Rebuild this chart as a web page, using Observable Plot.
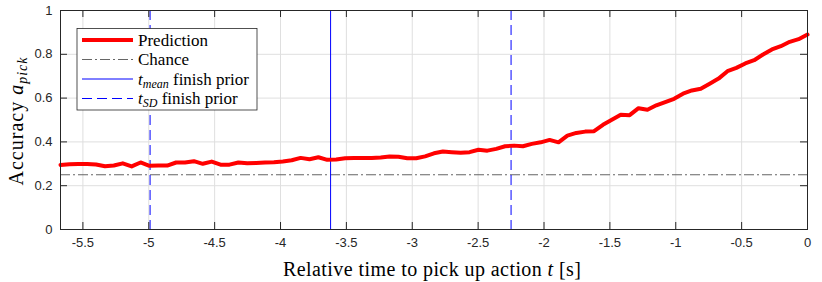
<!DOCTYPE html>
<html><head><meta charset="utf-8">
<script src="https://cdn.jsdelivr.net/npm/d3@7"></script>
<script src="https://cdn.jsdelivr.net/npm/@observablehq/plot@0.6"></script>
<style>body{margin:0;background:#fff}</style>
</head><body><div id="chart"></div>
<script>
// ---- data ----
const times = [-5.67,-5.6025,-5.535,-5.4675,-5.4,-5.3325,-5.265,-5.1975,-5.13,-5.0625,
  -4.995,-4.9275,-4.86,-4.7925,-4.725,-4.6575,-4.59,-4.5225,-4.455,-4.3875,
  -4.32,-4.2525,-4.185,-4.1175,-4.05,-3.9825,-3.915,-3.8475,-3.78,-3.7125,
  -3.645,-3.5775,-3.51,-3.4425,-3.375,-3.3075,-3.24,-3.1725,-3.105,-3.0375,
  -2.97,-2.9025,-2.835,-2.7675,-2.7,-2.6325,-2.565,-2.4975,-2.43,-2.3625,
  -2.295,-2.2275,-2.16,-2.0925,-2.025,-1.9575,-1.89,-1.8225,-1.755,-1.6875,
  -1.62,-1.5525,-1.485,-1.4175,-1.35,-1.2825,-1.215,-1.1475,-1.08,-1.0125,
  -0.945,-0.8775,-0.81,-0.7425,-0.675,-0.6075,-0.54,-0.4725,-0.405,-0.3375,
  -0.27,-0.2025,-0.135,-0.0675,0];
const accuracy = [0.295,0.298,0.299,0.299,0.297,0.289,0.292,0.302,0.288,0.306,
  0.291,0.292,0.292,0.306,0.306,0.312,0.300,0.310,0.296,0.296,
  0.306,0.302,0.304,0.306,0.307,0.311,0.316,0.327,0.321,0.330,
  0.318,0.320,0.325,0.327,0.327,0.327,0.329,0.333,0.332,0.325,
  0.325,0.334,0.348,0.356,0.353,0.350,0.353,0.364,0.360,0.368,
  0.380,0.383,0.380,0.391,0.398,0.409,0.398,0.429,0.441,0.447,
  0.449,0.478,0.501,0.524,0.522,0.554,0.547,0.567,0.582,0.597,
  0.620,0.635,0.643,0.666,0.689,0.723,0.738,0.758,0.773,0.799,
  0.822,0.837,0.857,0.869,0.890];
const chance = [0.25];
const tMean = [-3.62];
const tSD = [-4.99, -2.25];
const xDomain = [-5.67, 0];
const xTicks = [-5.5,-5,-4.5,-4,-3.5,-3,-2.5,-2,-1.5,-1,-0.5,0];
const xTickLabels = ["-5.5","-5","-4.5","-4","-3.5","-3","-2.5","-2","-1.5","-1","-0.5","0"];
const yTicks = [0,0.2,0.4,0.6,0.8,1];
const yTickLabels = ["0","0.2","0.4","0.6","0.8","1"];

// ---- layout ----
const W = 822, H = 282, mL = 60, mR = 15, mT = 10, mB = 53;
const fw = W - mL - mR, fh = H - mT - mB, tk = 7;
const axisColor = "#262626", gridColor = "#dfdfdf";

const data = times.map((t, i) => ({t, a: accuracy[i]}));

const chart = Plot.plot({
  width: W, height: H,
  marginLeft: mL, marginRight: mR, marginTop: mT, marginBottom: mB,
  x: {domain: xDomain},
  y: {domain: [0, 1]},
  style: {fontFamily: "'Liberation Sans', Arial, sans-serif", fontSize: "13px", color: axisColor, background: "#fff"},
  marks: [
    Plot.gridX(xTicks, {stroke: gridColor, strokeOpacity: 1}),
    Plot.gridY(yTicks, {stroke: gridColor, strokeOpacity: 1}),
    Plot.ruleY(chance, {stroke: "#666", strokeWidth: 1.2, strokeDasharray: "10,3,2,3"}),
    Plot.ruleX(tMean, {stroke: "#0000ff", strokeWidth: 1}),
    Plot.ruleX(tSD, {stroke: "#0000ff", strokeWidth: 1, strokeDasharray: "10,5"}),
    Plot.line(data, {x: "t", y: "a", stroke: "#ff0000", strokeWidth: 4, strokeLinejoin: "round"}),
    Plot.ruleX(xTicks, {insetTop: fh - tk, stroke: axisColor}),
    Plot.ruleX(xTicks, {insetBottom: fh - tk, stroke: axisColor}),
    Plot.ruleY(yTicks, {insetRight: fw - tk, stroke: axisColor}),
    Plot.ruleY(yTicks, {insetLeft: fw - tk, stroke: axisColor}),
    Plot.frame({stroke: axisColor, strokeWidth: 1}),
    Plot.axisX(xTicks, {tickSize: 0, tickPadding: 8, label: null, tickFormat: d => xTickLabels[xTicks.indexOf(d)]}),
    Plot.axisY(yTicks, {tickSize: 0, tickPadding: 8, label: null, tickFormat: d => yTickLabels[yTicks.indexOf(d)]})
  ]
});
document.getElementById("chart").appendChild(chart);

// ---- axis labels and legend (text) ----
const svg = d3.select(chart);
const serif = "'Liberation Serif', 'DejaVu Serif', serif";

const xl = svg.append("text").attr("x", 432).attr("y", 276)
  .attr("text-anchor", "middle").attr("font-family", serif).attr("font-size", 20).attr("fill", "#000")
  .attr("textLength", 298).attr("lengthAdjust", "spacing");
xl.append("tspan").text("Relative time to pick up action ");
xl.append("tspan").attr("font-style", "italic").text("t");
xl.append("tspan").text(" [s]");

const yl = svg.append("text").attr("transform", `translate(23,${mT + fh / 2 + 2}) rotate(-90)`)
  .attr("text-anchor", "middle").attr("font-family", serif).attr("font-size", 20).attr("fill", "#000")
  .attr("textLength", 128).attr("lengthAdjust", "spacing");
yl.append("tspan").text("Accuracy ");
yl.append("tspan").attr("font-style", "italic").text("a");
yl.append("tspan").attr("font-style", "italic").attr("font-size", 14).attr("dy", 4).text("pick");

const lg = svg.append("g");
lg.append("rect").attr("x", 77).attr("y", 28.5).attr("width", 180).attr("height", 81.5)
  .attr("fill", "#fff").attr("stroke", axisColor).attr("stroke-width", 0.8);
const rows = [
  {y: 40, stroke: "#ff0000", w: 4, dash: null},
  {y: 59.5, stroke: "#666", w: 1.2, dash: "10,3,2,3"},
  {y: 79, stroke: "#0000ff", w: 1, dash: null},
  {y: 98.5, stroke: "#0000ff", w: 1, dash: "10,5"}
];
rows.forEach(r => {
  lg.append("line").attr("x1", 82).attr("x2", 133).attr("y1", r.y).attr("y2", r.y)
    .attr("stroke", r.stroke).attr("stroke-width", r.w).attr("stroke-dasharray", r.dash);
});
const lt = (y) => lg.append("text").attr("x", 138).attr("y", y + 5.5).attr("font-family", serif)
  .attr("text-anchor", "start").attr("font-size", 17).attr("fill", "#000");
lt(40).text("Prediction");
lt(59.5).text("Chance");
const t3 = lt(79);
t3.append("tspan").attr("font-style", "italic").text("t");
t3.append("tspan").attr("font-style", "italic").attr("font-size", 12).attr("dy", 3).text("mean");
t3.append("tspan").attr("dy", -3).text(" finish prior");
const t4 = lt(98.5);
t4.append("tspan").attr("font-style", "italic").text("t");
t4.append("tspan").attr("font-style", "italic").attr("font-size", 12).attr("dy", 3).text("SD");
t4.append("tspan").attr("dy", -3).text(" finish prior");
</script>
</body></html>
